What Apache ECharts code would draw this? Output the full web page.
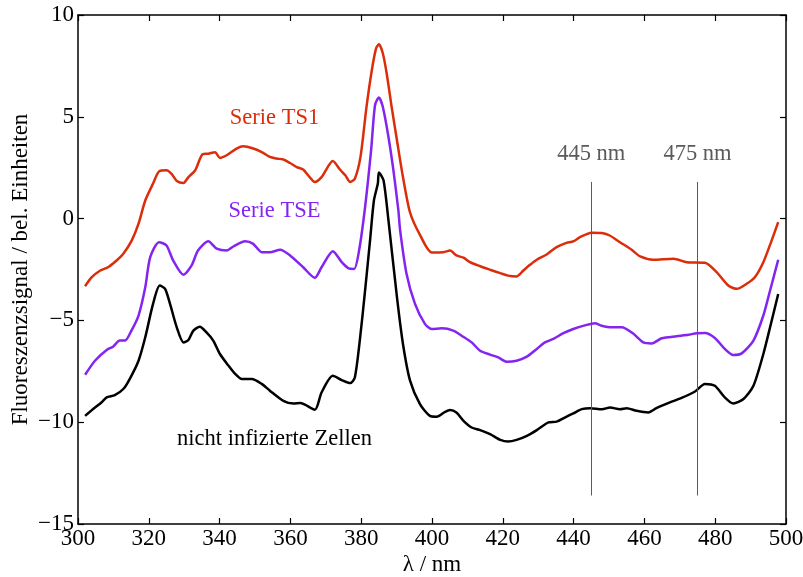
<!DOCTYPE html>
<html>
<head>
<meta charset="utf-8">
<script src="https://cdn.jsdelivr.net/npm/echarts@6/dist/echarts.min.js"></script>
<style>
  html, body { margin: 0; padding: 0; background: #fff; }
  #chart { width: 803px; height: 577px; }
</style>
</head>
<body>
<div id="chart"></div>
<script>
// Fluorescence spectra: wavelength (nm) and signal (arbitrary units)
const wlTS1 = [302.0,303.9,306.3,308.5,310.9,312.8,315.2,317.1,319.0,321.2,322.9,325.0,326.5,327.9,329.8,331.2,333.1,335.2,336.8,338.7,340.1,342.0,344.8,346.7,349.5,351.9,354.2,356.1,358.0,359.9,361.8,363.6,365.0,366.9,368.8,372.0,374.0,375.5,376.9,378.2,379.8,381.5,383.0,384.2,385.0,386.1,387.2,388.6,390.1,391.8,393.8,396.6,399.9,403.2,405.1,406.9,408.9,410.7,413.6,416.4,419.3,421.5,423.9,425.8,427.7,429.6,432.4,435.2,438.0,439.9,441.8,445.1,448.0,450.2,453.1,456.4,458.8,462.5,468.2,472.0,477.1,480.4,483.7,486.1,488.9,491.2,493.6,495.6,497.8];
const valTS1 = [-3.32,-2.88,-2.55,-2.39,-2.06,-1.73,-1.07,-0.25,0.89,1.72,2.32,2.37,2.18,1.85,1.75,2.04,2.37,3.16,3.19,3.26,2.98,3.11,3.44,3.55,3.44,3.27,3.03,2.95,2.90,2.73,2.53,2.41,2.13,1.80,2.04,2.83,2.41,2.13,1.80,1.96,3.03,5.49,7.29,8.36,8.56,8.12,7.13,5.49,3.85,2.04,0.30,-0.80,-1.66,-1.65,-1.57,-1.81,-1.92,-2.14,-2.34,-2.51,-2.68,-2.80,-2.84,-2.55,-2.27,-2.02,-1.76,-1.40,-1.19,-1.12,-0.91,-0.69,-0.71,-0.83,-1.16,-1.53,-1.86,-2.02,-1.97,-2.14,-2.17,-2.63,-3.29,-3.45,-3.20,-2.88,-2.14,-1.24,-0.17];

const wlTSE = [302.0,304.8,308.1,309.9,311.8,313.3,315.1,317.1,319.0,320.4,322.9,325.0,326.9,329.8,332.1,333.9,336.8,339.2,342.0,343.9,347.2,349.5,351.9,354.2,357.1,359.9,363.6,366.9,368.8,372.0,374.5,376.4,378.0,379.4,381.1,382.8,383.9,385.0,386.1,387.7,389.1,390.5,391.0,392.8,395.2,398.0,399.9,402.8,406.0,408.8,411.2,413.6,416.4,418.7,421.1,423.9,426.8,429.6,431.9,434.3,437.1,439.9,443.7,446.0,447.9,450.8,453.6,456.9,459.7,462.1,464.9,469.1,472.4,474.8,477.1,479.9,482.7,485.1,487.5,490.8,493.6,495.5,497.8];
const valTSE = [-7.67,-6.98,-6.45,-6.29,-5.99,-5.99,-5.50,-4.76,-3.37,-1.89,-1.16,-1.32,-2.06,-2.76,-2.30,-1.57,-1.11,-1.48,-1.57,-1.37,-1.11,-1.24,-1.65,-1.65,-1.53,-1.81,-2.39,-2.91,-2.39,-1.60,-2.14,-2.44,-2.47,-1.57,0.57,3.36,5.57,5.95,5.49,4.01,2.37,0.40,-0.58,-2.71,-4.19,-5.17,-5.42,-5.39,-5.50,-5.80,-6.08,-6.49,-6.68,-6.82,-7.03,-6.98,-6.78,-6.40,-6.08,-5.91,-5.63,-5.42,-5.22,-5.14,-5.26,-5.34,-5.34,-5.66,-6.08,-6.13,-5.88,-5.78,-5.71,-5.63,-5.62,-5.86,-6.40,-6.70,-6.62,-5.99,-4.76,-3.53,-2.02];

const wlCtrl = [302.0,304.8,306.6,308.1,310.4,312.8,314.6,317.1,319.0,321.2,323.1,324.6,326.0,327.9,329.8,331.2,332.6,334.4,336.3,338.2,340.1,342.5,344.4,346.3,349.1,351.9,354.2,358.0,360.9,362.8,366.9,368.8,372.0,374.5,376.9,378.2,379.6,381.1,382.5,383.6,384.7,385.0,386.3,387.7,390.1,391.8,393.8,396.6,399.4,401.3,403.7,405.1,406.9,408.9,411.2,413.6,416.4,419.3,421.5,423.9,426.8,429.6,432.9,435.2,437.5,439.9,442.3,444.7,448.0,450.3,453.1,455.0,457.8,461.1,463.4,467.2,470.5,474.3,477.1,479.9,482.7,485.1,488.0,490.8,493.6,495.5,497.8];
const valCtrl = [-9.69,-9.28,-9.03,-8.78,-8.67,-8.37,-7.88,-6.98,-5.83,-4.19,-3.29,-3.45,-4.19,-5.34,-6.08,-5.96,-5.50,-5.31,-5.59,-5.99,-6.65,-7.22,-7.63,-7.88,-7.88,-8.12,-8.45,-8.95,-9.08,-9.06,-9.39,-8.54,-7.72,-7.93,-8.08,-7.80,-5.99,-3.53,-1.07,0.90,1.72,2.27,1.88,-0.09,-3.86,-6.16,-7.96,-9.11,-9.69,-9.73,-9.49,-9.40,-9.52,-9.93,-10.26,-10.39,-10.59,-10.87,-10.95,-10.87,-10.67,-10.39,-10.01,-9.97,-9.77,-9.57,-9.36,-9.31,-9.36,-9.28,-9.36,-9.31,-9.44,-9.52,-9.31,-9.03,-8.81,-8.49,-8.12,-8.21,-8.78,-9.08,-8.86,-8.21,-6.65,-5.34,-3.70];

// Marked wavelengths and the vertical extent of their guide lines
const markWavelengths = [445, 475];
const markLabels = ['445 nm', '475 nm'];
const markSpan = [1.8, -13.6];

const xTicks = { min: 300, max: 500, step: 20 };
const yTicks = { min: -15, max: 10, step: 5 };

const serif = "'Liberation Serif', 'Times New Roman', serif";
const RED = '#dc2d0a';
const VIOLET = '#8424f0';
const BLACK = '#000000';
const GUIDE = '#5a5a5a';

const zip = (xs, ys) => xs.map((x, i) => [x, ys[i]]);
const minus = v => String(v).replace('-', '\u2212');

const chart = echarts.init(document.getElementById('chart'), null, { renderer: 'canvas' });

const frameAxis = {
  axisLine: { show: true, onZero: false, lineStyle: { color: '#000', width: 1.5 } },
  axisTick: { show: true, inside: true, length: 6, lineStyle: { color: '#000', width: 1.2 } },
  splitLine: { show: false }
};

const lineSeries = (name, data, color) => ({
  name, type: 'line', data, showSymbol: false, symbol: 'none',
  smooth: 0.25, xAxisIndex: 0, yAxisIndex: 0,
  lineStyle: { color, width: 2.5 }, animation: false
});

const ctrl = lineSeries('nicht infizierte Zellen', zip(wlCtrl, valCtrl), BLACK);
ctrl.markLine = {
  silent: true, symbol: 'none', animation: false,
  lineStyle: { color: GUIDE, width: 1, type: 'solid' },
  label: { show: false },
  data: markWavelengths.map(w => [{ coord: [w, markSpan[0]] }, { coord: [w, markSpan[1]] }])
};

chart.setOption({
  backgroundColor: '#fff',
  animation: false,
  grid: { left: 78, right: 17, top: 15, bottom: 53, containLabel: false, outerBoundsMode: 'none' },
  xAxis: [
    Object.assign({
      type: 'value', position: 'bottom', min: xTicks.min, max: xTicks.max, interval: xTicks.step,
      name: '\u03bb / nm', nameLocation: 'middle', nameGap: 29, nameMoveOverlap: false,
      nameTextStyle: { color: '#000', fontFamily: serif, fontSize: 23 },
      axisLabel: { color: '#000', fontFamily: serif, fontSize: 23, margin: 3 }
    }, frameAxis),
    Object.assign({
      type: 'value', position: 'top', min: xTicks.min, max: xTicks.max, interval: xTicks.step,
      axisLabel: { show: false }
    }, frameAxis)
  ],
  yAxis: [
    Object.assign({
      type: 'value', position: 'left', min: yTicks.min, max: yTicks.max, interval: yTicks.step,
      name: 'Fluoreszenzsignal / bel. Einheiten', nameLocation: 'middle', nameGap: 46, nameMoveOverlap: false,
      nameTextStyle: { color: '#000', fontFamily: serif, fontSize: 23 },
      axisLabel: { color: '#000', fontFamily: serif, fontSize: 23, margin: 4, formatter: minus }
    }, frameAxis),
    Object.assign({
      type: 'value', position: 'right', min: yTicks.min, max: yTicks.max, interval: yTicks.step,
      axisLabel: { show: false }
    }, frameAxis)
  ],
  series: [
    lineSeries('Serie TS1', zip(wlTS1, valTS1), RED),
    lineSeries('Serie TSE', zip(wlTSE, valTSE), VIOLET),
    ctrl
  ]
});

// Text annotations placed at data positions
function annotate() {
  const at = (x, y) => chart.convertToPixel({ gridIndex: 0 }, [x, y]);
  const txt = (pos, text, color) => ({
    type: 'text', x: pos[0], y: pos[1], silent: true,
    style: { text, fill: color, font: '22.5px ' + serif, align: 'center', verticalAlign: 'middle' }
  });
  const items = [
    txt(at(355.5, 4.95), 'Serie TS1', RED),
    txt(at(355.5, 0.35), 'Serie TSE', VIOLET),
    txt(at(355.5, -10.85), 'nicht infizierte Zellen', BLACK)
  ];
  markWavelengths.forEach((w, i) => {
    const p = at(w, 3.15);
    items.push(txt(p, markLabels[i], GUIDE));
  });
  chart.setOption({ graphic: items });
}
annotate();
</script>
</body>
</html>
